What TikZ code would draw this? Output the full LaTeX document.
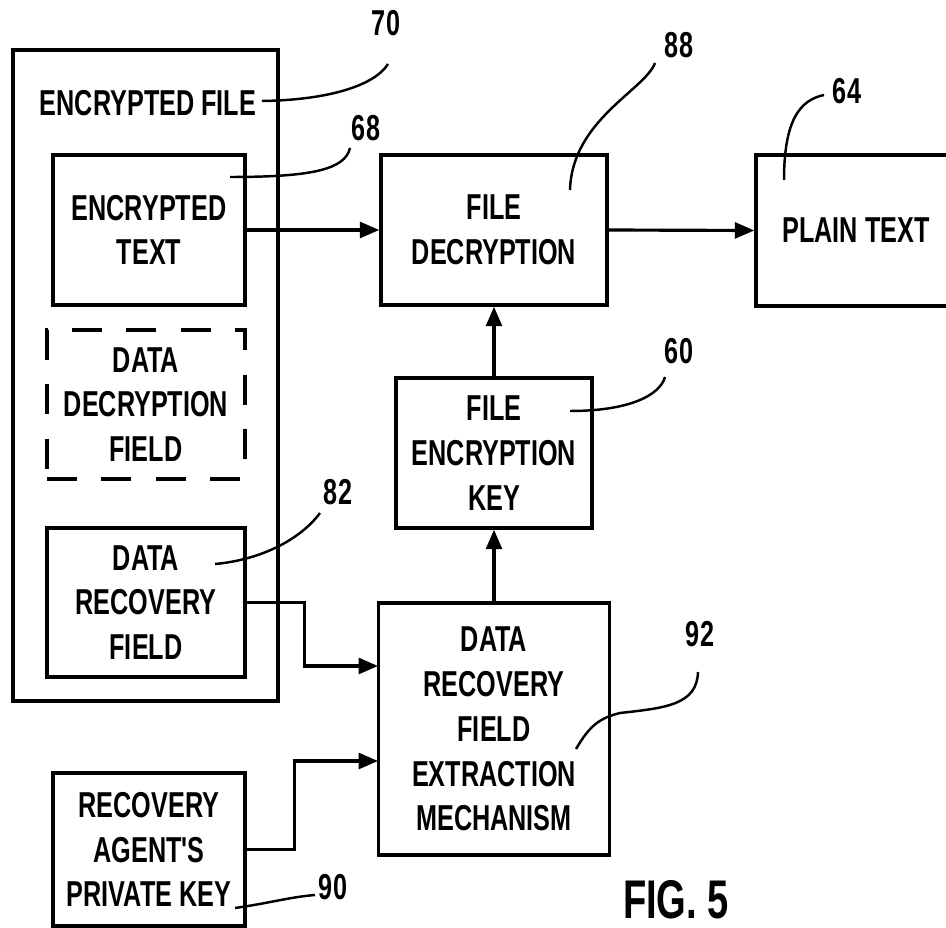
\documentclass[tikz,border=0pt]{standalone}
\usepackage{fontspec}
\setmainfont{Liberation Sans}[FakeStretch=0.7,Ligatures=TeXOff]
\usetikzlibrary{arrows.meta,positioning}

\begin{document}
\begin{tikzpicture}[x=0.02cm,y=-0.02cm,
    font=\fontsize{20.5}{25.5}\selectfont\bfseries,
    box/.style={draw,line width=2pt,align=center,inner sep=0pt},
    dbox/.style={box,dash pattern=on 17pt off 14pt},
    arr/.style={-{Triangle[length=11pt,width=9pt]},line width=1.8pt},
    lead/.style={line width=1.4pt}]
  \useasboundingbox (0,0) rectangle (946,928);
  % left column
  \node[box,minimum width=5.3cm,minimum height=13.02cm] (file) at (145.5,375.5) {};
  \node (file_lbl) at (148,103) {ENCRYPTED FILE};
  \node[box,minimum width=3.84cm,minimum height=3cm] (enc_text) at (149,230) {ENCRYPTED\\TEXT};
  \node[dbox,minimum width=3.96cm,minimum height=2.98cm] (ddf) at (146,404.5) {DATA\\DECRYPTION\\FIELD};
  \node[box,minimum width=3.96cm,minimum height=2.98cm] (drf) at (146,602.5) {DATA\\RECOVERY\\FIELD};
  \node[box,minimum width=3.84cm,minimum height=3.06cm] (rapk) at (149,849.5) {RECOVERY\\AGENT'S\\PRIVATE KEY};
  % middle and right
  \node[box,minimum width=4.52cm,minimum height=3cm] (fdec) at (494,230) {FILE\\DECRYPTION};
  \node[box,minimum width=4cm,minimum height=3.02cm] (plain) at (856,230.5) {PLAIN TEXT};
  \node[box,minimum width=3.92cm,minimum height=3cm] (fek) at (494,453) {FILE\\ENCRYPTION\\KEY};
  \node[box,minimum width=4.62cm,minimum height=5.04cm] (drfem) at (494,729) {DATA\\RECOVERY\\FIELD\\EXTRACTION\\MECHANISM};
  \coordinate (m_in1) at (378,666);
  \coordinate (m_in2) at (378,761);
  % reference numerals
  \node (l_70) at (386,23) {70};
  \node (l_68) at (366,128) {68};
  \node (l_82) at (338,492) {82};
  \node (l_90) at (333,887) {90};
  \node (l_88) at (679,45) {88};
  \node (l_64) at (847,91) {64};
  \node (l_60) at (679,351) {60};
  \node (l_92) at (700,634) {92};
  \node[font=\fontsize{31}{36}\selectfont\bfseries,inner sep=0pt] (fig) at (676,900) {FIG. 5};

  \draw[arr] (enc_text.east) -- (fdec.west);
  \draw[arr] (fdec.east) -- (plain.west);
  \draw[arr] (fek.north) -- (fdec.south);
  \draw[arr] (drfem.north) -- (fek.south);
  \draw[arr] (drf.east) -- ++(58,0) |- (m_in1);
  \draw[arr] (rapk.east) -- ++(48,0) |- (m_in2);

  % leaders
  \coordinate (c_70) at (262,101);
  \coordinate (c_68) at (230,177);
  \coordinate (c_82) at (215,564);
  \coordinate (c_90) at (235,908);
  \coordinate (c_88) at (570,190);
  \coordinate (c_64) at (784,180);
  \coordinate (c_60) at (570,411);
  \coordinate (c_92) at (576,749);
  \draw[lead] (c_70) .. controls (330,100) and (375,85) .. (388,64);
  \draw[lead] (c_68) .. controls (310,177) and (345,170) .. (350,148);
  \draw[lead] (c_82) .. controls (260,560) and (300,540) .. (320,513);
  \draw[lead] (c_90) .. controls (270,903) and (290,897) .. (315,895);
  \draw[lead] (c_88) .. controls (572,120) and (645,90) .. (655,63);
  \draw[lead] (c_64) .. controls (784,120) and (800,100) .. (824,95);
  \draw[lead] (c_60) .. controls (630,411) and (660,395) .. (665,377);
  \draw[lead] (c_92) .. controls (590,725) and (600,718) .. (620,713)
    .. controls (665,708) and (697,705) .. (698,672);
\end{tikzpicture}
\end{document}
